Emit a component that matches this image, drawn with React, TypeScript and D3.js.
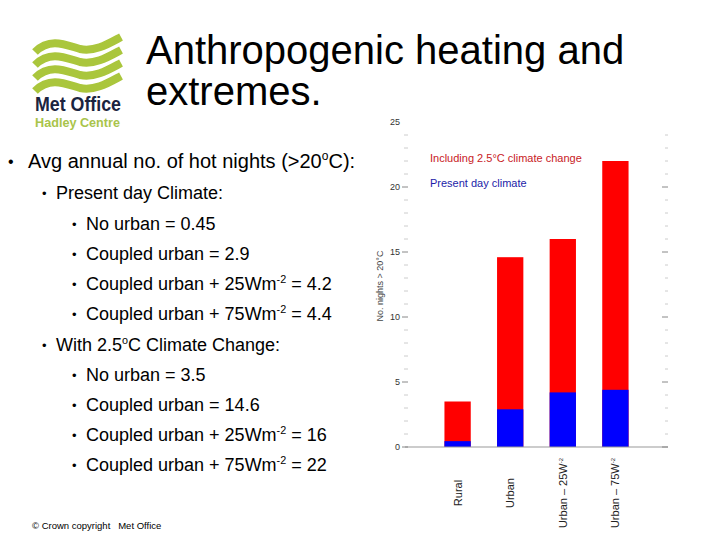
import React from "react";
import * as d3 from "d3";

const categories = ["Rural", "Urban", "Urban – 25W", "Urban – 75W"];
const climateChange = [3.5, 14.6, 16, 22];
const presentDay = [0.45, 2.9, 4.2, 4.4];
const majorTicks = [0, 5, 10, 15, 20, 25];
const minorTicks = d3.range(0, 25, 1);

const bulletLines: { level: number; text: string; sup?: string; tail?: string }[] = [
  { level: 1, text: "Avg annual no. of hot nights (>20", sup: "o", tail: "C):" },
  { level: 2, text: "Present day Climate:" },
  { level: 3, text: "No urban = 0.45" },
  { level: 3, text: "Coupled urban = 2.9" },
  { level: 3, text: "Coupled urban + 25Wm", sup: "-2", tail: " = 4.2" },
  { level: 3, text: "Coupled urban + 75Wm", sup: "-2", tail: " = 4.4" },
  { level: 2, text: "With 2.5", sup: "o", tail: "C Climate Change:" },
  { level: 3, text: "No urban = 3.5" },
  { level: 3, text: "Coupled urban = 14.6" },
  { level: 3, text: "Coupled urban + 25Wm", sup: "-2", tail: " = 16" },
  { level: 3, text: "Coupled urban + 75Wm", sup: "-2", tail: " = 22" },
];
const baselines = [168, 199, 230, 260, 290, 320, 351, 381, 411, 441, 471];

const FONT = "'Liberation Sans', Arial, Helvetica, sans-serif";

export default function App() {
  const y = d3.scaleLinear().domain([0, 25]).range([447, 122]);
  const x = d3.scaleLinear().domain([0, 5]).range([405, 668]);
  const bw = x(0.5) - x(0);

  const levelX: Record<number, { b: number; t: number; fs: number; bs: number }> = {
    1: { b: 8, t: 28, fs: 20, bs: 16 },
    2: { b: 42, t: 56, fs: 18, bs: 13 },
    3: { b: 72, t: 86, fs: 18, bs: 13 },
  };

  const waves = [0, 13, 26, 39].map((o) => {
    const y0 = 52 + o;
    return `M35,${y0} C50,${y0 - 15} 66,${y0 - 7} 80,${y0 - 3} C95,${y0} 108,${y0 - 8} 121,${y0 - 15}`;
  });

  return (
    <svg
      width={720}
      height={540}
      style={{ position: "absolute", left: 0, top: 0, background: "#fff" }}
      fontFamily={FONT}
    >
      <rect width={720} height={540} fill="#fff" />
      {/* Logo */}
      {waves.map((d, i) => (
        <path key={i} d={d} fill="none" stroke="#aac63c" strokeWidth={8} />
      ))}
      <text x={35} y={111} fontSize={20} fontWeight="bold" fill="#1b2440" textLength={86} lengthAdjust="spacingAndGlyphs">
        Met Office
      </text>
      <text x={35} y={127} fontSize={12.5} fontWeight="bold" fill="#a9c44a" textLength={85} lengthAdjust="spacingAndGlyphs">
        Hadley Centre
      </text>

      {/* Title */}
      <text x={146} y={64} fontSize={40} fill="#000">Anthropogenic heating and</text>
      <text x={146} y={105} fontSize={40} fill="#000">extremes.</text>

      {/* Bullets */}
      {bulletLines.map((l, i) => {
        const lv = levelX[l.level];
        const by = baselines[i];
        return (
          <g key={i}>
            <text x={lv.b} y={by - 1} fontSize={lv.bs} fill="#000">•</text>
            <text x={lv.t} y={by} fontSize={lv.fs} fill="#000">
              {l.text}
              {l.sup && (
                <tspan fontSize={lv.fs * 0.6} dy={-lv.fs * 0.38}>{l.sup}</tspan>
              )}
              {l.tail && <tspan dy={l.sup ? lv.fs * 0.38 : 0}>{l.tail}</tspan>}
            </text>
          </g>
        );
      })}

      <text x={32} y={529} fontSize={9.5} fill="#000" style={{ whiteSpace: "pre" }}>
        {"© Crown copyright   Met Office"}
      </text>

      {/* Chart */}
      {presentDay.map((v, i) => (
        <g key={i}>
          <rect
            x={x(i + 1) - bw / 2}
            y={y(climateChange[i])}
            width={bw}
            height={y(0) - y(climateChange[i])}
            fill="#ff0000"
          />
          <rect x={x(i + 1) - bw / 2} y={y(v)} width={bw} height={y(0) - y(v)} fill="#0000ff" />
        </g>
      ))}
      <line x1={x(0)} x2={x(5)} y1={y(0)} y2={y(0)} stroke="#999" strokeWidth={1} />

      {minorTicks.map((t) => (
        <g key={t} stroke={t % 5 === 0 ? "#888" : "#ccc"}>
          <line x1={t % 5 === 0 ? 402 : 404} x2={408} y1={y(t)} y2={y(t)} />
          <line x1={t % 5 === 0 ? 662 : 665} x2={668} y1={y(t)} y2={y(t)} />
        </g>
      ))}
      {majorTicks.map((t) => (
        <text key={t} x={400} y={y(t) + 3} fontSize={9} textAnchor="end" fill="#333">
          {t}
        </text>
      ))}
      <text
        transform={`translate(383,286) rotate(-90)`}
        fontSize={9}
        textAnchor="middle"
        fill="#444"
      >
        No. nights &gt; 20°C
      </text>

      {categories.map((c, i) => (
        <text
          key={c}
          transform={`translate(${x(i + 1) + 4},${493}) rotate(-90)`}
          fontSize={11}
          textAnchor="middle"
          fill="#222"
        >
          {c}
          {i >= 2 && <tspan fontSize={6} dy={-4}>-2</tspan>}
        </text>
      ))}

      {/* Legend */}
      <text x={430} y={162} fontSize={11} fill="#c8201e">Including 2.5°C climate change</text>
      <text x={430} y={187} fontSize={11} fill="#1c1ca8">Present day climate</text>
    </svg>
  );
}
